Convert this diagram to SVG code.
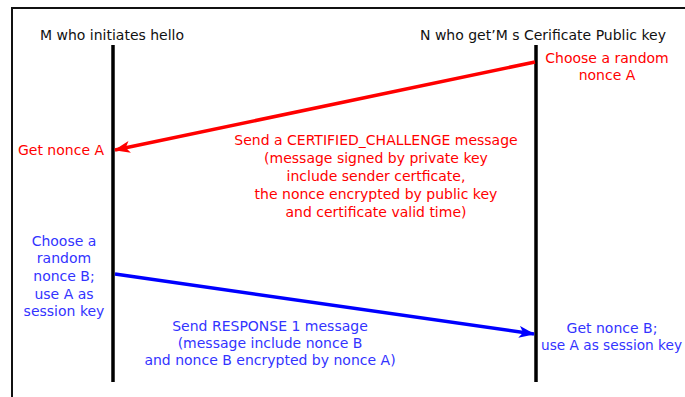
<svg xmlns="http://www.w3.org/2000/svg" width="685" height="397" viewBox="0 0 685 397">
<style>
text{font-family:"DejaVu Sans",Verdana,sans-serif;font-size:14px;text-anchor:middle}
.k{fill:#111}
.r{fill:#ff0000}
.b{fill:#3333ff}
.life{stroke:#000;stroke-width:3.5}
</style>
<defs>
<marker id="ar" viewBox="0 0 16 12" refX="15" refY="6" markerWidth="16" markerHeight="12" markerUnits="userSpaceOnUse" orient="auto">
<path d="M0,0 L16,6 L0,12 L4,6 z" fill="#ff0000"/>
</marker>
<marker id="ab" viewBox="0 0 16 12" refX="15" refY="6" markerWidth="16" markerHeight="12" markerUnits="userSpaceOnUse" orient="auto">
<path d="M0,0 L16,6 L0,12 L4,6 z" fill="#0000ff"/>
</marker>
</defs>
<rect width="685" height="397" fill="#fff"/>
<rect x="12" y="8" width="700" height="420" fill="none" stroke="#111" stroke-width="2"/>
<g id="M">
<text class="k" x="112" y="40">M who initiates hello</text>
<line class="life" x1="113" y1="45" x2="113" y2="382"/>
</g>
<g id="N">
<text class="k" x="543" y="40">N who get’M s Cerificate Public key</text>
<line class="life" x1="536" y1="45" x2="536" y2="382"/>
</g>
<g id="noteA">
<text class="r" x="607" y="63">Choose a random</text>
<text class="r" x="607" y="80">nonce A</text>
</g>
<g id="getA">
<text class="r" x="61" y="155">Get nonce A</text>
</g>
<g id="noteB">
<text class="b" x="64" y="246">Choose a</text>
<text class="b" x="64" y="263">random</text>
<text class="b" x="64" y="281">nonce B;</text>
<text class="b" x="64" y="299">use A as</text>
<text class="b" x="64" y="316">session key</text>
</g>
<g id="getB">
<text class="b" x="612" y="333">Get nonce B;</text>
<text class="b" x="541" y="350" style="text-anchor:start" textLength="141" lengthAdjust="spacingAndGlyphs">use A as session key</text>
</g>
<g id="connectors">
<line x1="535" y1="62" x2="115" y2="150" stroke="#ff0000" stroke-width="3.5" marker-end="url(#ar)"/>
<line x1="115" y1="274" x2="534" y2="334" stroke="#0000ff" stroke-width="3.5" marker-end="url(#ab)"/>
<g id="msg1">
<text class="r" x="376" y="145">Send a CERTIFIED_CHALLENGE message</text>
<text class="r" x="376" y="163">(message signed by private key</text>
<text class="r" x="376" y="181">include sender certficate,</text>
<text class="r" x="376" y="199">the nonce encrypted by public key</text>
<text class="r" x="376" y="217">and certificate valid time)</text>
</g>
<g id="msg2">
<text class="b" x="270" y="331">Send RESPONSE 1 message</text>
<text class="b" x="270" y="348">(message include nonce B</text>
<text class="b" x="270" y="365">and nonce B encrypted by nonce A)</text>
</g>
</g>
</svg>
